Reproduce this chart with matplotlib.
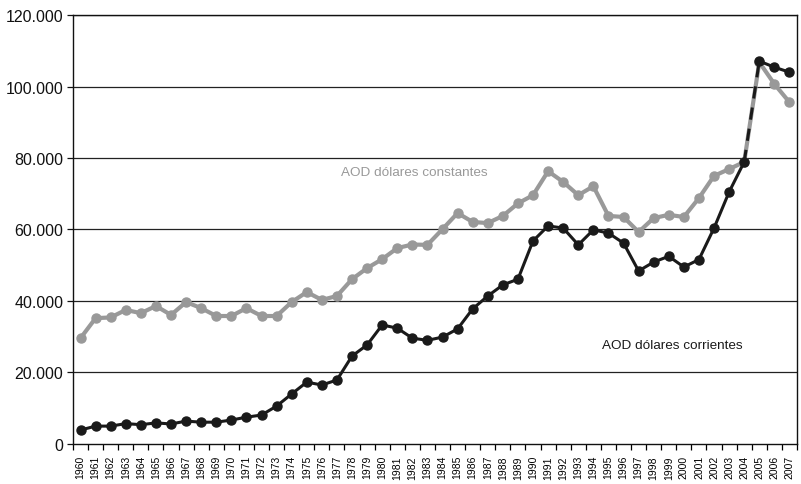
import numpy as np
import matplotlib
matplotlib.use("Agg")
import matplotlib.pyplot as plt
from matplotlib.ticker import FixedLocator, FuncFormatter

plt.rcParams['font.family'] = ['Liberation Sans', 'DejaVu Sans']

# años 1960-2007
anios = [str(a) for a in range(1960, 2008)]

# AOD en dólares corrientes (millones)
corrientes = [3900, 5000, 5000, 5700, 5400, 5900, 5600, 6400, 6100, 6100,
              6700, 7500, 8100, 10600, 14000, 17300, 16500, 17900, 24600, 27700,
              33300, 32400, 29600, 29000, 29900, 32200, 37800, 41400, 44500, 46100,
              56800, 61000, 60400, 55700, 59900, 59000, 56200, 48400, 50900, 52500,
              49500, 51600, 60400, 70500, 78900, 107100, 105400, 104000]

# AOD en dólares constantes
constantes = [29600, 35200, 35400, 37500, 36600, 38600, 36100, 39700, 38000, 35800,
              35800, 38000, 35800, 35800, 39700, 42500, 40300, 41400, 46100, 49200,
              51700, 54800, 55800, 55700, 60100, 64600, 62100, 61800, 63800, 67300,
              69600, 76300, 73300, 69600, 72100, 63800, 63500, 59300, 63200, 64100,
              63500, 68800, 75000, 76900, 78900, 106800, 100700, 95600]

GRIS = '#999999'
NEGRO = '#1a1a1a'

fig = plt.figure(figsize=(8.01, 4.85), dpi=100)
ax = fig.add_axes([0.0911, 0.0825, 0.9039, 0.8845])

x = np.arange(len(anios))
i_salto = anios.index('2004')

for v in range(20000, 120001, 20000):
    ax.axhline(v, color='#222222', lw=0.9, zorder=1)

ax.plot(x, constantes, color=GRIS, lw=3, marker='o', ms=6.5, zorder=3)

# corrientes: tramo 2004-2005 discontinuo
ax.plot(x[:i_salto + 1], corrientes[:i_salto + 1], color=NEGRO, lw=2.2,
        marker='o', ms=6.5, zorder=4)
ax.plot(x[i_salto:i_salto + 2], corrientes[i_salto:i_salto + 2], color=NEGRO,
        lw=2.2, ls=(0, (4, 3)), zorder=4)
ax.plot(x[i_salto + 1:], corrientes[i_salto + 1:], color=NEGRO, lw=2.2,
        marker='o', ms=6.5, zorder=4)

ax.set_xlim(-0.5, len(anios) - 0.5)
ax.set_ylim(0, 120000)
ax.set_yticks(range(0, 120001, 20000))
ax.yaxis.set_major_formatter(FuncFormatter(lambda v, p: f"{int(v):,}".replace(",", ".")))
ax.tick_params(axis='y', labelsize=11.5, length=4, width=0.9, pad=3, colors='#111111')

ax.xaxis.set_major_locator(FixedLocator(np.arange(-0.5, len(anios), 1)))
ax.xaxis.set_major_formatter(FuncFormatter(lambda v, p: ''))
ax.xaxis.set_minor_locator(FixedLocator(x))
ax.set_xticklabels(anios, minor=True, rotation=90, fontsize=7.5)
ax.tick_params(axis='x', which='major', length=4, width=0.9)
ax.tick_params(axis='x', which='minor', length=0, pad=8)

for s in ax.spines.values():
    s.set_color('#111111')
    s.set_linewidth(1.0)

ax.text(22.1, 76000, 'AOD dólares constantes', color=GRIS, fontsize=9.7, ha='center', va='center')
ax.text(43.9, 27800, 'AOD dólares corrientes', color=NEGRO, fontsize=9.7, ha='right', va='center')

fig.savefig('out.png', dpi=100)
